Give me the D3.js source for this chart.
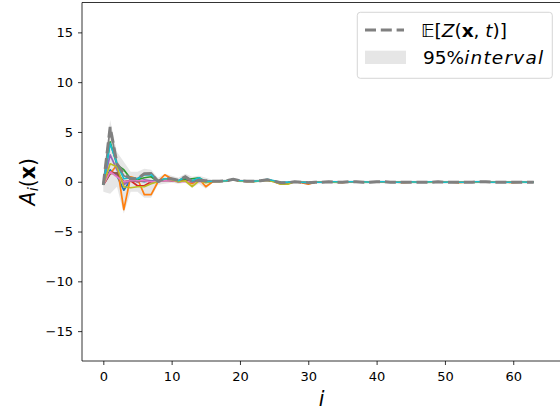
<!DOCTYPE html>
<html>
<head>
<meta charset="utf-8">
<script src="https://cdn.jsdelivr.net/npm/d3@7"></script>
<style>
body { margin: 0; background: #fff; }
text { font-family: 'DejaVu Sans', sans-serif; }
</style>
</head>
<body>
<script>
let width = 560;
let height = 412;

// index i = 0 .. 63
let xTicks = [0, 10, 20, 30, 40, 50, 60];
let yTicks = [-15, -10, -5, 0, 5, 10, 15];

// tab10 colours, one per sample
let colors = ['#1f77b4', '#ff7f0e', '#2ca02c', '#d62728', '#9467bd',
	'#8c564b', '#e377c2', '#7f7f7f', '#bcbd22', '#17becf'];

// mean E[Z(x,t)]
let meanValues = [
	-0.3, 5.5, 1.8, 0.8, 0.3, 0.3, 0.8, 0.8, 0.05, 0.3, 0.3, 0.15, 0.5, 0.05, 0.15, 0.1,
	0.05, 0.05, 0.1, 0.25, 0.1, 0.05, 0.05, 0.1, 0.2, 0.05, -0.1, -0.1, 0.0, -0.05, -0.1, -0.05,
	-0.05, 0.0, -0.05, -0.05, 0.0, 0.0, -0.05, -0.05, 0.0, 0.0, -0.05, -0.05, -0.05, -0.05, -0.05, -0.05,
	-0.05, 0.0, -0.05, -0.05, -0.05, -0.05, -0.05, 0.0, 0.0, -0.05, -0.05, -0.05, -0.05, -0.05, -0.05, -0.05
];

// 95% interval
let upperValues = [
	0.3, 6.2, 3.0, 2.0, 1.0, 1.0, 1.3, 1.2, 0.4, 0.8, 0.6, 0.4, 0.8, 0.5, 0.6, 0.4,
	0.2, 0.2, 0.25, 0.4, 0.25, 0.2, 0.2, 0.25, 0.35, 0.2, 0.05, 0.05, 0.15, 0.1, 0.05, 0.1,
	0.1, 0.15, 0.1, 0.1, 0.15, 0.15, 0.1, 0.1, 0.15, 0.15, 0.1, 0.1, 0.1, 0.1, 0.1, 0.1,
	0.1, 0.15, 0.1, 0.1, 0.1, 0.1, 0.1, 0.15, 0.15, 0.1, 0.1, 0.1, 0.1, 0.1, 0.1, 0.1
];
let lowerValues = [
	-1.0, -1.2, -0.5, -3.2, -1.0, -1.0, -1.6, -1.6, -0.3, -0.2, -0.1, -0.2, -0.1, -0.6, -0.2, -0.7,
	-0.1, -0.1, -0.05, 0.1, -0.05, -0.1, -0.1, -0.05, 0.05, -0.1, -0.3, -0.3, -0.15, -0.2, -0.3, -0.2,
	-0.2, -0.15, -0.2, -0.2, -0.15, -0.15, -0.2, -0.2, -0.15, -0.15, -0.2, -0.2, -0.2, -0.2, -0.2, -0.2,
	-0.2, -0.15, -0.2, -0.2, -0.2, -0.2, -0.2, -0.15, -0.15, -0.2, -0.2, -0.2, -0.2, -0.2, -0.2, -0.2
];

// individual samples A_i(x)
let samples = [
	[ // blue
	-0.3, 1.2, 0.6, -0.85, 0.2, 0.1, 0.0, 0.1, 0.0, 0.2, 0.2, 0.1, 0.2, 0.0, 0.1, 0.0,
	0.05, 0.05, 0.1, 0.2, 0.1, 0.05, 0.05, 0.1, 0.15, 0.05, -0.1, -0.05, 0.0, -0.05, -0.1, -0.05,
	-0.05, 0.0, -0.05, -0.05, 0.0, 0.0, -0.05, -0.05, 0.0, 0.0, -0.05, -0.05, -0.05, -0.05, -0.05, -0.05,
	-0.05, 0.0, -0.05, -0.05, -0.05, -0.05, -0.05, 0.0, 0.0, -0.05, -0.05, -0.05, -0.05, -0.05, -0.05, -0.05
	],
	[ // orange
	-0.3, 0.8, 1.7, -2.8, 0.5, 0.3, -1.3, -1.3, 0.0, 0.7, 0.3, 0.1, 0.1, -0.2, 0.3, -0.5,
	0.0, 0.05, 0.1, 0.2, 0.1, 0.0, 0.05, 0.1, 0.15, 0.0, -0.25, -0.2, 0.0, -0.1, -0.25, -0.05,
	-0.05, 0.0, -0.05, -0.1, 0.0, 0.0, -0.05, -0.05, 0.0, 0.0, -0.05, -0.05, -0.1, -0.05, -0.05, -0.05,
	-0.05, 0.0, -0.05, -0.05, -0.1, -0.05, -0.05, 0.0, 0.0, -0.05, -0.05, -0.05, -0.1, -0.05, -0.05, -0.05
	],
	[ // green
	-0.3, 4.0, 1.7, 1.2, 0.3, 0.2, 0.4, 0.5, 0.0, 0.3, 0.2, 0.1, 0.3, 0.3, 0.4, 0.0,
	0.05, 0.05, 0.1, 0.25, 0.1, 0.05, 0.05, 0.1, 0.2, 0.05, -0.1, -0.1, 0.0, -0.05, -0.1, -0.05,
	-0.05, 0.0, -0.05, -0.05, 0.0, 0.0, -0.05, -0.05, 0.0, 0.0, -0.05, -0.05, -0.05, -0.05, -0.05, -0.05,
	-0.05, 0.0, -0.05, -0.05, -0.05, -0.05, -0.05, 0.0, 0.0, -0.05, -0.05, -0.05, -0.05, -0.05, -0.05, -0.05
	],
	[ // red
	-0.3, 1.0, 0.8, 0.0, 0.1, -0.4, -0.4, 0.0, 0.0, 0.2, 0.1, 0.1, 0.1, 0.0, 0.1, 0.0,
	0.05, 0.05, 0.1, 0.2, 0.1, 0.05, 0.05, 0.1, 0.2, 0.05, -0.1, -0.1, 0.0, -0.05, -0.1, -0.05,
	-0.05, 0.0, -0.05, -0.05, 0.0, 0.0, -0.05, -0.05, 0.0, 0.0, -0.05, -0.05, -0.05, -0.05, -0.05, -0.05,
	-0.05, 0.0, -0.05, -0.05, -0.05, -0.05, -0.05, 0.0, 0.0, -0.05, -0.05, -0.05, -0.05, -0.05, -0.05, -0.05
	],
	[ // purple
	-0.3, 2.7, 1.2, -0.3, 0.2, 0.0, 0.2, 0.1, 0.0, 0.2, 0.2, 0.0, 0.1, 0.0, 0.1, 0.0,
	0.05, 0.05, 0.1, 0.25, 0.1, 0.05, 0.05, 0.1, 0.2, 0.05, -0.1, -0.1, 0.0, -0.05, -0.1, -0.05,
	-0.05, 0.0, -0.05, -0.05, 0.0, 0.0, -0.05, -0.05, 0.0, 0.0, -0.05, -0.05, -0.05, -0.05, -0.05, -0.05,
	-0.05, 0.0, -0.05, -0.05, -0.05, -0.05, -0.05, 0.0, 0.0, -0.05, -0.05, -0.05, -0.05, -0.05, -0.05, -0.05
	],
	[ // brown
	-0.3, 0.8, 0.9, 0.0, 0.1, 0.0, 0.1, 0.0, 0.0, 0.1, 0.1, 0.0, 0.1, 0.0, 0.1, 0.0,
	0.05, 0.05, 0.1, 0.2, 0.1, 0.05, 0.05, 0.1, 0.2, 0.05, -0.1, -0.1, 0.0, -0.05, -0.1, -0.05,
	-0.05, 0.0, -0.05, -0.05, 0.0, 0.0, -0.05, -0.05, 0.0, 0.0, -0.05, -0.05, -0.05, -0.05, -0.05, -0.05,
	-0.05, 0.0, -0.05, -0.05, -0.05, -0.05, -0.05, 0.0, 0.0, -0.05, -0.05, -0.05, -0.05, -0.05, -0.05, -0.05
	],
	[ // pink
	-0.3, 1.0, 0.5, 0.0, 0.1, 0.1, 0.1, 0.0, 0.0, 0.1, 0.1, 0.0, 0.0, 0.0, 0.0, 0.0,
	0.05, 0.05, 0.1, 0.2, 0.1, 0.05, 0.05, 0.1, 0.2, 0.05, -0.1, -0.1, 0.0, -0.05, -0.1, -0.05,
	-0.05, 0.0, -0.05, -0.05, 0.0, 0.0, -0.05, -0.05, 0.0, 0.0, -0.05, -0.05, -0.05, -0.05, -0.05, -0.05,
	-0.05, 0.0, -0.05, -0.05, -0.05, -0.05, -0.05, 0.0, 0.0, -0.05, -0.05, -0.05, -0.05, -0.05, -0.05, -0.05
	],
	[ // gray
	-0.3, 5.4, 1.8, 0.6, 0.3, 0.3, 0.8, 0.9, 0.1, 0.3, 0.3, 0.1, 0.5, 0.0, 0.1, 0.1,
	0.05, 0.05, 0.1, 0.25, 0.1, 0.05, 0.05, 0.1, 0.2, 0.05, -0.1, -0.1, 0.0, -0.05, -0.1, -0.05,
	-0.05, 0.0, -0.05, -0.05, 0.0, 0.0, -0.05, -0.05, 0.0, 0.0, -0.05, -0.05, -0.05, -0.05, -0.05, -0.05,
	-0.05, 0.0, -0.05, -0.05, -0.05, -0.05, -0.05, 0.0, 0.0, -0.05, -0.05, -0.05, -0.05, -0.05, -0.05, -0.05
	],
	[ // olive
	-0.3, 1.8, 1.5, -0.5, -0.6, -0.5, -0.5, -0.2, 0.0, 0.3, 0.2, 0.0, 0.1, -0.5, 0.1, -0.1,
	0.05, 0.0, 0.1, 0.2, 0.05, 0.05, 0.0, 0.1, 0.15, 0.0, -0.25, -0.25, 0.0, -0.05, -0.1, -0.05,
	-0.05, 0.0, -0.05, -0.05, 0.0, 0.0, -0.05, -0.05, 0.0, 0.0, -0.05, -0.05, -0.05, -0.05, -0.05, -0.05,
	-0.05, 0.0, -0.05, -0.05, -0.05, -0.05, -0.05, 0.0, 0.0, -0.05, -0.05, -0.05, -0.05, -0.05, -0.05, -0.05
	],
	[ // cyan
	-0.3, 3.85, 1.8, 0.3, 0.4, 0.3, 0.7, 0.7, 0.0, 0.3, 0.3, 0.1, 0.5, 0.1, 0.4, 0.0,
	0.05, 0.05, 0.1, 0.25, 0.1, 0.1, 0.05, 0.1, 0.25, 0.1, -0.05, -0.05, 0.0, -0.05, -0.05, -0.05,
	-0.05, 0.0, 0.0, -0.05, 0.0, 0.0, 0.0, -0.05, 0.0, 0.0, 0.0, -0.05, -0.05, 0.0, -0.05, -0.05,
	0.0, 0.0, -0.05, 0.0, -0.05, -0.05, 0.0, 0.0, 0.0, -0.05, 0.0, -0.05, -0.05, 0.0, -0.05, -0.05
	]
];

let margin = { left: 82, right: 561, top: 2.5, bottom: 361 };

let x = d3.scaleLinear()
	.domain([-3.12, 66.99])
	.range([margin.left, margin.right]);

let y = d3.scaleLinear()
	.domain([-18, 18])
	.range([margin.bottom, margin.top]);

let svg = d3.select('body').append('svg')
	.attr('width', width)
	.attr('height', height)
	.style('background-color', '#fff');

let plot = svg.append('g');

plot.append('clipPath')
	.attr('id', 'clip')
	.append('rect')
	.attr('x', margin.left)
	.attr('y', margin.top)
	.attr('width', margin.right - margin.left)
	.attr('height', margin.bottom - margin.top);

let body = plot.append('g').attr('clip-path', 'url(#clip)');

// interval band
let area = d3.area()
	.x((d, i) => x(i))
	.y0((d, i) => y(lowerValues[i]))
	.y1(d => y(d));

body.append('path')
	.datum(upperValues)
	.attr('d', area)
	.style('fill', '#808080')
	.style('fill-opacity', 0.2);

let line = d3.line()
	.x((d, i) => x(i))
	.y(d => y(d));

for (let s = 0; s < samples.length; s++) {
	body.append('path')
		.datum(samples[s])
		.attr('d', line)
		.style('fill', 'none')
		.style('stroke', colors[s])
		.style('stroke-width', 1.7)
		.style('stroke-linejoin', 'round');
}

body.append('path')
	.datum(meanValues)
	.attr('d', line)
	.style('fill', 'none')
	.style('stroke', '#808080')
	.style('stroke-width', 3)
	.style('stroke-dasharray', '11,4.8');

// axes
let xAxis = d3.axisBottom(x)
	.tickValues(xTicks)
	.tickSize(4)
	.tickPadding(6.5)
	.tickFormat(d3.format('d'));

let yAxis = d3.axisLeft(y)
	.tickValues(yTicks)
	.tickSize(4)
	.tickPadding(5)
	.tickFormat(d => d < 0 ? '\u2212' + Math.abs(d) : d);

let gx = plot.append('g')
	.attr('transform', 'translate(0,' + margin.bottom + ')')
	.call(xAxis);
let gy = plot.append('g')
	.attr('transform', 'translate(' + margin.left + ',0)')
	.call(yAxis);

for (let g of [gx, gy]) {
	g.select('.domain').remove();
	g.selectAll('line').style('stroke', '#000').style('stroke-width', 0.8);
	g.selectAll('text')
		.style('font-family', 'DejaVu Sans')
		.style('font-size', '13px')
		.style('fill', '#000');
}

// spines (right one lies outside the picture)
plot.append('path')
	.attr('d', 'M' + margin.left + ',' + margin.top + 'V' + margin.bottom + 'H' + margin.right +
		'M' + margin.left + ',' + margin.top + 'H' + margin.right)
	.style('fill', 'none')
	.style('stroke', '#000')
	.style('stroke-width', 0.8);

// axis labels
svg.append('text')
	.attr('x', (margin.left + margin.right) / 2)
	.attr('y', 406)
	.attr('text-anchor', 'middle')
	.style('font-size', '20.5px')
	.style('font-style', 'italic')
	.text('i');

let yl = svg.append('text')
	.attr('transform', 'translate(34.5,' + ((margin.top + margin.bottom) / 2) + ') rotate(-90)')
	.attr('text-anchor', 'middle')
	.style('font-size', '20.5px');
yl.append('tspan').style('font-style', 'italic').text('A');
yl.append('tspan').style('font-style', 'italic').style('font-size', '14.5px').attr('dy', 3).text('i');
yl.append('tspan').attr('dy', -3).text('(');
yl.append('tspan').style('font-weight', 'bold').text('x');
yl.append('tspan').text(')');

// legend
let legend = svg.append('g');
legend.append('rect')
	.attr('x', 357.3)
	.attr('y', 12.3)
	.attr('width', 195)
	.attr('height', 66)
	.attr('rx', 3)
	.style('fill', '#fff')
	.style('fill-opacity', 0.8)
	.style('stroke', '#cccccc')
	.style('stroke-width', 0.8);

legend.append('line')
	.attr('x1', 365).attr('x2', 404)
	.attr('y1', 30).attr('y2', 30)
	.style('stroke', '#808080')
	.style('stroke-width', 3)
	.style('stroke-dasharray', '11,4.8');

legend.append('rect')
	.attr('x', 365).attr('y', 50.7)
	.attr('width', 41).attr('height', 13.3)
	.style('fill', '#808080')
	.style('fill-opacity', 0.2);

let t1 = legend.append('text')
	.attr('x', 421)
	.attr('y', 36.5)
	.style('font-size', '18.5px');
t1.append('tspan').text('\uD835\uDD3C[');
t1.append('tspan').style('font-style', 'italic').text('Z');
t1.append('tspan').text('(');
t1.append('tspan').style('font-weight', 'bold').text('x');
t1.append('tspan').text(', ');
t1.append('tspan').style('font-style', 'italic').text('t');
t1.append('tspan').text(')]');

let t2 = legend.append('text')
	.attr('x', 423)
	.attr('y', 63.5)
	.style('font-size', '18.5px');
t2.append('tspan').text('95%');
t2.append('tspan').style('font-style', 'italic').style('letter-spacing', '1.2px').text('interval');
</script>
</body>
</html>
